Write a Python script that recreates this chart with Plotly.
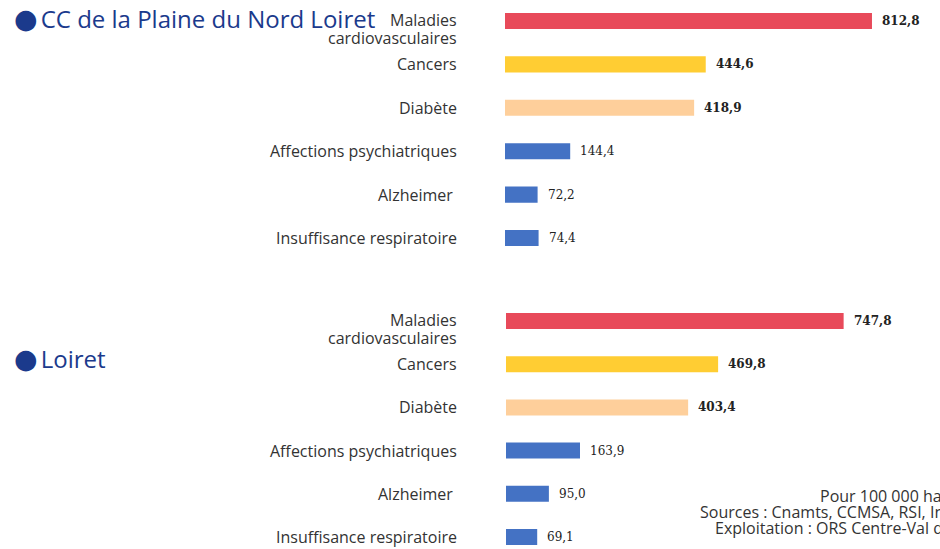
import plotly.graph_objects as go

categories = ["Maladies<br>cardiovasculaires", "Cancers", "Diabète",
              "Affections psychiatriques", "Alzheimer ", "Insuffisance respiratoire"]
values_cc = [812.8, 444.6, 418.9, 144.4, 72.2, 74.4]
values_loiret = [747.8, 469.8, 403.4, 163.9, 95.0, 69.1]
titles = ["CC de la Plaine du Nord Loiret", "Loiret"]
bar_colors = ["#E84A5A", "#FFCD33", "#FECF9B", "#4472C4", "#4472C4", "#4472C4"]
bold = [True, True, True, False, False, False]
footer = ["Pour 100 000 habitants", "Sources : Cnamts, CCMSA, RSI, Insee",
          "Exploitation : ORS Centre-Val de Loire"]

W, H = 940, 549
TXT = "#333333"
BLUE_T = "#1B3A8C"

def fmt(v):
    return f"{v:.1f}".replace(".", ",")

fig = go.Figure()
cat_idx = list(range(len(categories)))

panels = [(values_cc, "x", "y"), (values_loiret, "x2", "y2")]
for vals, xa, ya in panels:
    fig.add_trace(go.Bar(
        x=vals, y=cat_idx, orientation="h", xaxis=xa, yaxis=ya,
        marker=dict(color=bar_colors, line=dict(width=0)), width=0.37,
        hoverinfo="skip", showlegend=False))

fig.update_layout(
    width=W, height=H, margin=dict(l=0, r=0, t=0, b=0),
    paper_bgcolor="white", plot_bgcolor="white",
    xaxis=dict(domain=[505 / W, 1], range=[0, 435 / 0.4515], visible=False, fixedrange=True),
    yaxis=dict(domain=[(H - 260) / H, 1], range=[(260 - 21) / 43.4, -21 / 43.4],
               visible=False, fixedrange=True),
    xaxis2=dict(domain=[506 / W, 1], range=[0, 434 / 0.4515], visible=False, fixedrange=True),
    yaxis2=dict(domain=[0, (H - 290) / H], range=[(549 - 321) / 43.2, (290 - 321) / 43.2],
                visible=False, fixedrange=True),
)

annotations = []
for (vals, xa, ya) in panels:
    for i, (c, v) in enumerate(zip(categories, vals)):
        for k, line in enumerate(c.split("<br>")):
            annotations.append(dict(
                x=459 / W, xref="paper", y=i, yref=ya,
                text=line, showarrow=False, xanchor="right", yanchor="middle", align="right",
                font=dict(family="Open Sans", size=16, color=TXT),
                yshift=-17 * k + (1 if k == 0 and "<br>" in c else 0)))
        annotations.append(dict(
            x=v, xref=xa, y=i, yref=ya,
            text=f"<b>{fmt(v)}</b>" if bold[i] else fmt(v),
            showarrow=False, xanchor="left", yanchor="middle", xshift=8,
            font=dict(family="DejaVu Serif", size=12, color="#222222")))

title_y = [18, 358]
for t, yp in zip(titles, title_y):
    annotations.append(dict(
        x=12 / W, xref="paper", y=1 - yp / H, yref="paper",
        text=("<span style='font-family:DejaVu Sans;font-size:27px'>●</span>"
              "<span style='font-size:12px'> </span>" + t),
        showarrow=False, xanchor="left", yanchor="middle",
        font=dict(family="Open Sans", size=24, color=BLUE_T)))

footer_x = [818, 698, 713]
footer_y = [496, 512, 528]
for t, xp, yp in zip(footer, footer_x, footer_y):
    annotations.append(dict(
        x=xp / W, xref="paper", y=1 - yp / H, yref="paper", text=t, showarrow=False,
        xanchor="left", yanchor="middle",
        font=dict(family="Open Sans", size=16, color=TXT)))

fig.update_layout(annotations=annotations)
fig.write_html("out.html", config={"displayModeBar": False},
               post_script="document.body.style.margin='0';document.body.style.overflow='hidden';")
